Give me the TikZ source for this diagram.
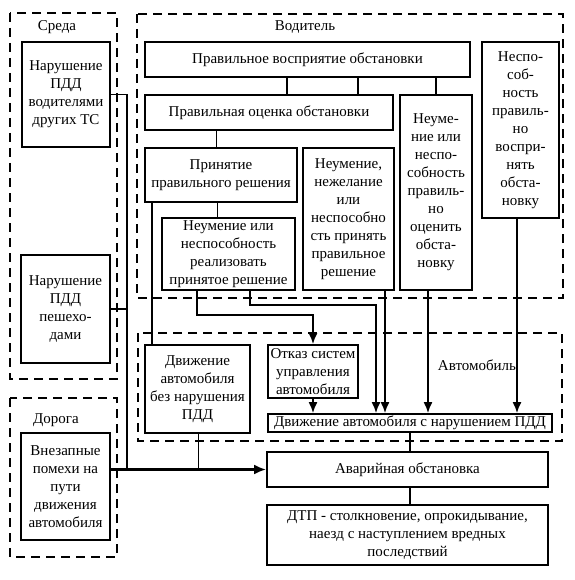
\documentclass[tikz,border=0pt]{standalone}
\usepackage{fontspec}
\setmainfont{Liberation Serif}
\usetikzlibrary{arrows.meta}

\tikzset{
	blok/.style={draw, line width=1.8pt, align=center, inner sep=0pt, font=\fontsize{15}{18}\selectfont},
	zona/.style={draw, line width=1.7pt, dash pattern=on 9pt off 6pt},
	zonatxt/.style={font=\fontsize{15}{18}\selectfont},
	svyaz/.style={line width=1.7pt},
	tonk/.style={line width=0.9pt},
	strelka/.style={line width=1.7pt, -{Latex[length=11pt,width=9pt]}},
}

\begin{document}
\begin{tikzpicture}[x=1pt,y=-1pt]
	\useasboundingbox (0,0) rectangle (574,580);

	\draw[zona] (10,13) rectangle (117,379);
	\draw[zona] (10,398) rectangle (117,557);
	\draw[zona] (137,14) rectangle (563,298);
	\draw[zona] (138,333) rectangle (562,441);
	\node[zonatxt] (sreda) at (57,27) {Среда};
	\node[zonatxt] (doroga) at (56,420) {Дорога};
	\node[zonatxt] (voditel) at (305,27) {Водитель};
	\node[zonatxt] (avto) at (477,365) {Автомобиль};

	\node[blok, minimum width=88, minimum height=105] (narVod) at (66,94.5) {Нарушение\\ПДД\\водителями\\других ТС};
	\node[blok, minimum width=89, minimum height=108] (narPesh) at (65.5,309) {Нарушение\\ПДД\\пешехо-\\дами};
	\node[blok, minimum width=89, minimum height=107] (pomehi) at (65.5,486.5) {Внезапные\\помехи на\\пути\\движения\\автомобиля};

	\node[blok, minimum width=325, minimum height=35] (vospr) at (307.5,59.5) {Правильное восприятие обстановки};
	\node[blok, minimum width=77, minimum height=176] (neVospr) at (520.5,130) {Неспо-\\соб-\\ность\\правиль-\\но\\воспри-\\нять\\обста-\\новку};
	\node[blok, minimum width=248, minimum height=35] (ocenka) at (269,112.5) {Правильная оценка обстановки};
	\node[blok, minimum width=72, minimum height=195] (neOcen) at (436,192.5) {Неуме-\\ние или\\неспо-\\собность\\правиль-\\но\\оценить\\обста-\\новку};
	\node[blok, minimum width=152, minimum height=54] (reshenie) at (221,175) {Принятие\\правильного решения};
	\node[blok, minimum width=91, minimum height=142] (nePrin) at (348.5,219) {Неумение,\\нежелание\\или\\неспособно\\сть принять\\правильное\\решение};
	\node[blok, minimum width=133, minimum height=72] (neReal) at (228.5,254) {Неумение или\\неспособность\\реализовать\\принятое решение};

	\node[blok, minimum width=105, minimum height=88] (bezNar) at (197.5,389) {Движение\\автомобиля\\без нарушения\\ПДД};
	\node[blok, minimum width=90, minimum height=53] (otkaz) at (313,371.5) {Отказ систем\\управления\\автомобиля};
	\node[blok, minimum width=284, minimum height=18] (sNar) at (410,423) {Движение автомобиля с нарушением ПДД};
	\node[blok, minimum width=281, minimum height=35] (avar) at (407.5,469.5) {Аварийная обстановка};
	\node[blok, minimum width=281, minimum height=60] (dtp) at (407.5,535) {ДТП - столкновение, опрокидывание,\\наезд с наступлением вредных\\последствий};

	\draw[svyaz] (287,0 |- vospr.south) -- (287,0 |- ocenka.north);
	\draw[svyaz] (358,0 |- vospr.south) -- (358,0 |- ocenka.north);
	\draw[svyaz] (neOcen.north |- vospr.south) -- (neOcen.north);
	\draw[tonk] (216,0 |- ocenka.south) -- (216,0 |- reshenie.north);
	\draw[tonk] (217,0 |- reshenie.south) -- (217,0 |- neReal.north);
	\draw[svyaz] (152,0 |- reshenie.south) -- (152,0 |- bezNar.north);

	\draw[strelka] (197,0 |- neReal.south) -- (197,315) -| (otkaz.north);
	\draw[strelka] (250,0 |- neReal.south) -- (250,305) -| (376,0 |- sNar.north);
	\draw[strelka] (385,0 |- nePrin.south) -- (385,0 |- sNar.north);
	\draw[strelka] (428,0 |- neOcen.south) -- (428,0 |- sNar.north);
	\draw[strelka] (517,0 |- neVospr.south) -- (517,0 |- sNar.north);
	\draw[strelka] (otkaz.south) -- (otkaz.south |- sNar.north);

	\draw[svyaz] (sNar.south) -- (sNar.south |- avar.north);
	\draw[svyaz] (sNar.south |- avar.south) -- (sNar.south |- dtp.north);

	\draw[svyaz] (narVod.east) -- (127,0 |- narVod.east) -- (127,0 |- avar.west);
	\draw[svyaz] (narPesh.east) -- (127,0 |- narPesh.east);
	\draw[tonk] (198,0 |- bezNar.south) -- (198,0 |- avar.west);
	\draw[line width=2.8pt, -{Latex[length=12pt,width=10pt]}] (pomehi.east |- avar.west) -- (avar.west);
\end{tikzpicture}
\end{document}
